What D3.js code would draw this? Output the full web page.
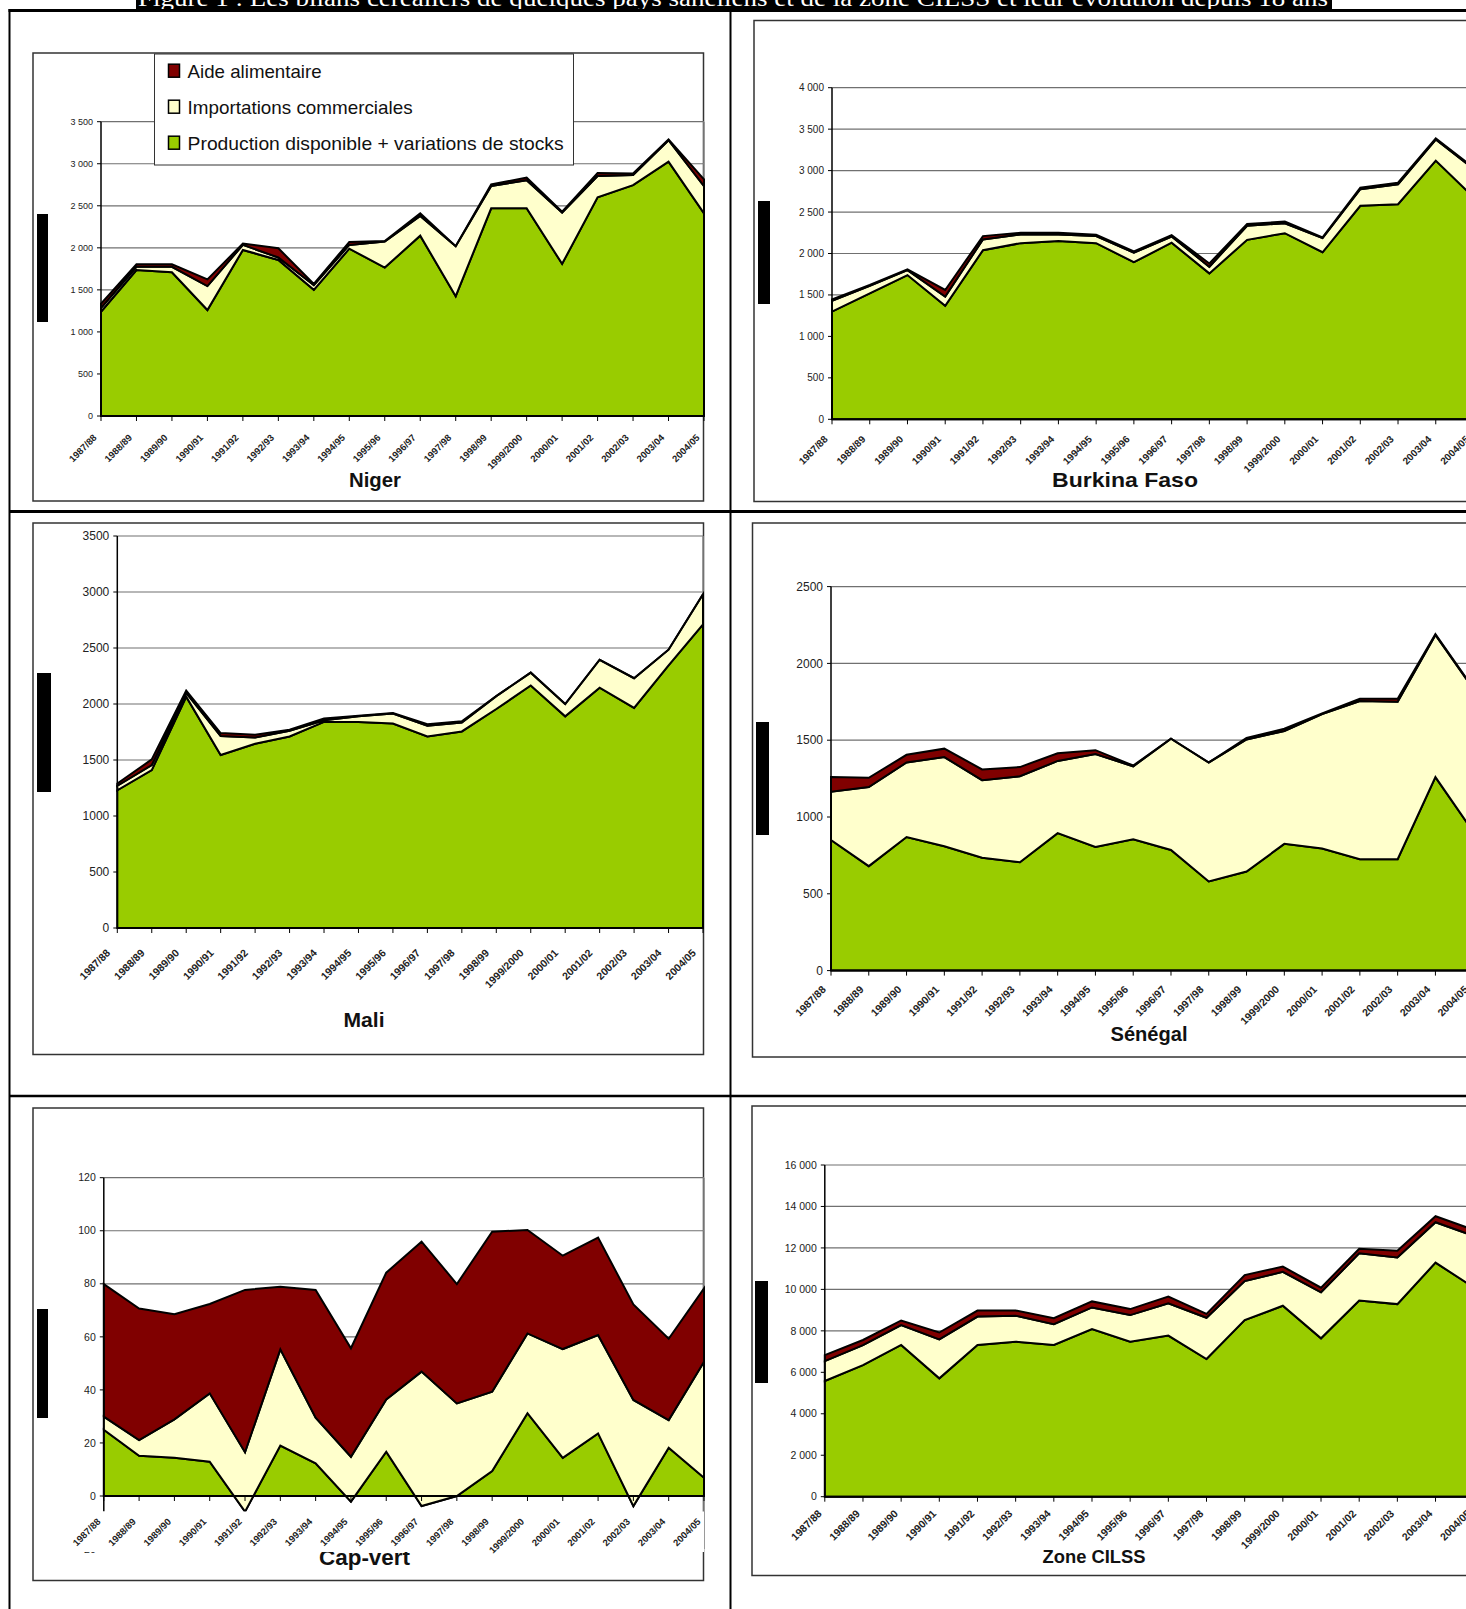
<!DOCTYPE html>
<html lang="fr">
<head>
<meta charset="UTF-8">
<title>Bilans céréaliers</title>
<script src="https://d3js.org/d3.v7.min.js"></script>
<style>
	body{margin:0;background:#fff;overflow:hidden}
	svg{display:block;font-family:"Liberation Sans",Arial,sans-serif}
</style>
</head>
<body>
<svg id="page" width="1466" height="1609"></svg>
<script>

var annees = ["1987/88","1988/89","1989/90","1990/91","1991/92","1992/93","1993/94","1994/95","1995/96",
	"1996/97","1997/98","1998/99","1999/2000","2000/01","2001/02","2002/03","2003/04","2004/05"];

// milliers de tonnes
var prodNiger = [1240,1735,1710,1260,1975,1855,1500,1990,1765,2145,1425,2470,2470,1810,2600,2745,3025,2410];
var impNiger  = [45,40,65,285,60,30,55,45,310,235,595,265,335,610,255,120,255,325];
var aideNiger = [50,30,30,80,15,110,15,35,5,30,0,20,30,10,35,20,10,80];

var prodBurkina = [1300,1520,1740,1370,2040,2125,2150,2125,1895,2130,1760,2165,2245,2015,2575,2595,3120,2680];
var impBurkina  = [130,90,60,110,130,105,80,85,115,75,80,170,120,170,200,240,255,340];
var aideBurkina = [15,10,10,80,40,20,20,15,15,15,40,20,20,10,20,20,15,15];

var prodMali = [1230,1410,2065,1545,1645,1710,1840,1840,1825,1710,1755,1955,2165,1890,2145,1965,2345,2710];
var impMali  = [40,45,35,170,55,50,15,50,90,95,80,115,115,110,250,265,140,270];
var aideMali = [20,50,20,25,25,10,15,5,5,15,10,0,0,0,0,0,0,0];

var prodSenegal = [850,680,870,810,735,705,895,805,855,785,580,645,825,795,725,725,1260,905];
var impSenegal  = [315,515,485,580,505,560,470,605,475,725,775,860,735,875,1030,1025,925,930];
var aideSenegal = [95,60,50,55,70,60,50,25,5,0,0,10,15,5,15,20,5,5];

var prodCapVert = [25,15.2,14.4,12.9,-5.9,19,12.3,-2.1,16.7,-3.8,0,9.4,31.2,14.4,23.6,-3.8,18.2,6.9];
var impCapVert  = [4.9,5.9,14.5,25.8,22.4,36.3,17.2,16.9,19.7,50.7,34.9,29.9,30.1,41,37.1,40,10.4,43.7];
var aideCapVert = [50,49.6,39.6,33.7,61.2,23.6,48.2,40.9,47.8,49,45,60.3,39,35.2,36.7,36,30.7,27.7];

var prodCilss = [5580,6350,7320,5710,7320,7480,7320,8090,7480,7770,6640,8520,9210,7640,9460,9290,11290,10100];
var impCilss  = [960,960,960,1880,1370,1250,1000,1040,1280,1560,1990,1880,1640,2220,2280,2250,1950,2480];
var aideCilss = [290,250,220,330,290,250,290,290,290,320,190,290,250,220,220,320,290,290];

var ticksNiger   = [0,500,1000,1500,2000,2500,3000,3500];
var ticksBurkina = [0,500,1000,1500,2000,2500,3000,3500,4000];
var ticksMali    = [0,500,1000,1500,2000,2500,3000,3500];
var ticksSenegal = [0,500,1000,1500,2000,2500];
var ticksCapVert = [-20,0,20,40,60,80,100,120];
var ticksCilss   = [0,2000,4000,6000,8000,10000,12000,14000,16000];

var legende = ["Aide alimentaire","Importations commerciales","Production disponible + variations de stocks"];
var couleurs = {prod:"#99CC00", imp:"#FFFFCC", aide:"#800000"};

var svg = d3.select("#page");

// bandeau du titre (coupé en haut de la page)
svg.append("rect").attr("x",136).attr("y",0).attr("width",1196).attr("height",9.5).attr("fill","#000");
svg.append("text").attr("x",138).attr("y",5.5)
	.attr("font-family","'Liberation Serif',serif").attr("font-size",24).attr("fill","#fff")
	.attr("textLength",1190).attr("lengthAdjust","spacingAndGlyphs")
	.text("Figure 1 : Les bilans céréaliers de quelques pays sahéliens et de la zone CILSS et leur évolution depuis 18 ans");

// cadre du tableau
var traits = [[8.5,10.5,1466,10.5,3],[9.5,9,9.5,1609,2],[730.5,9,730.5,1609,2],[9,511.5,1466,511.5,3],[9,1096,1466,1096,2.5]];
traits.forEach(function(t){
	svg.append("line").attr("x1",t[0]).attr("y1",t[1]).attr("x2",t[2]).attr("y2",t[3])
		.attr("stroke","#000").attr("stroke-width",t[4]);
});

var espace = function(v){ return d3.format(",")(v).replace(/,/g," "); };
var simple = function(v){ return String(v); };

function graphique(c) {
	var g = svg.append("g");
	var f = c.cadre;
	g.append("rect").attr("x",f[0]).attr("y",f[1]).attr("width",f[2]-f[0]).attr("height",f[3]-f[1])
		.attr("fill","#fff").attr("stroke","#333").attr("stroke-width",1.5);

	var vmax = d3.max(c.ticks), vmin = d3.min(c.ticks);
	var x = d3.scalePoint().domain(annees).range([c.x0, c.x1]);
	var y = d3.scaleLinear().domain([0, vmax]).range([c.y0, c.yTop]);

	// grille
	g.selectAll(".grille").data(c.ticks.filter(function(t){return t>0;})).enter().append("line")
		.attr("x1",c.x0).attr("x2",c.x1).attr("y1",function(d){return y(d);}).attr("y2",function(d){return y(d);})
		.attr("stroke","#707070").attr("stroke-width",1.2);
	g.append("line").attr("x1",c.x1).attr("x2",c.x1).attr("y1",y(vmax)).attr("y2",y(vmin))
		.attr("stroke","#8a8a8a").attr("stroke-width",1.5);

	var lignes = annees.map(function(a,i){ return {annee:a, prod:c.prod[i], imp:c.imp[i], aide:c.aide[i]}; });
	var series = d3.stack().keys(["prod","imp","aide"])(lignes);
	var aire = d3.area().x(function(d){return x(d.data.annee);})
		.y0(function(d){return y(d[0]);}).y1(function(d){return y(d[1]);});
	g.selectAll(".serie").data(series).enter().append("path")
		.attr("d",aire).attr("fill",function(d){return couleurs[d.key];})
		.attr("stroke","#000").attr("stroke-width",2);

	// axe des ordonnées
	g.append("line").attr("x1",c.x0).attr("x2",c.x0).attr("y1",y(vmax)).attr("y2",c.axeBas || y(vmin))
		.attr("stroke","#000").attr("stroke-width",1.5);
	g.selectAll(".tk").data(c.ticks).enter().append("line")
		.attr("x1",c.x0-4).attr("x2",c.x0).attr("y1",function(d){return y(d);}).attr("y2",function(d){return y(d);})
		.attr("stroke","#000").attr("stroke-width",1);
	g.selectAll(".tl").data(c.ticks).enter().append("text")
		.attr("x",c.x0-8).attr("y",function(d){return y(d);}).attr("dy","0.35em")
		.attr("text-anchor","end").attr("font-size",c.fsTick).attr("fill","#222")
		.text(function(d){return c.fmt(d);});

	// axe des abscisses
	g.append("line").attr("x1",c.x0).attr("x2",c.x1).attr("y1",y(0)).attr("y2",y(0))
		.attr("stroke","#000").attr("stroke-width",2);
	g.selectAll(".tx").data(annees).enter().append("line")
		.attr("x1",function(d){return x(d);}).attr("x2",function(d){return x(d);})
		.attr("y1",y(0)).attr("y2",y(0)+5).attr("stroke","#000").attr("stroke-width",1);

	// titre de l'axe (rendu en barre noire)
	g.append("rect").attr("x",c.barre[0]).attr("y",c.barre[1]).attr("width",c.barre[2]).attr("height",c.barre[3]).attr("fill","#000");

	g.append("text").attr("x",c.titre[1]).attr("y",c.titre[2]).attr("text-anchor","middle")
		.attr("font-weight","bold").attr("font-size",c.titre[3]).attr("fill","#111")
		.attr("textLength",c.titre[4]).attr("lengthAdjust","spacingAndGlyphs").text(c.titre[0]);

	if (c.bandeBlanche) {
		g.append("rect").attr("x",60).attr("y",c.bandeBlanche[0]).attr("width",c.x1-60)
			.attr("height",c.bandeBlanche[1]-c.bandeBlanche[0]).attr("fill","#fff");
	}

	g.selectAll(".xl").data(annees).enter().append("text")
		.attr("transform",function(d){return "translate("+(x(d)-c.lab[0])+","+(y(0)+c.lab[1])+") rotate(-45)";})
		.attr("text-anchor","end").attr("dy","0.35em").attr("font-size",c.lab[2]).attr("font-weight","bold")
		.attr("fill","#222").text(function(d){return d;});
	return g;
}

var niger = graphique({prod:prodNiger, imp:impNiger, aide:aideNiger, ticks:ticksNiger, fmt:espace, fsTick:9,
	cadre:[33,53,703.5,501], x0:101, x1:704, y0:416, yTop:121.7,
	barre:[37,214,11,108], titre:["Niger",375,486.5,21,52], lab:[6,20,9.5]});

graphique({prod:prodBurkina, imp:impBurkina, aide:aideBurkina, ticks:ticksBurkina, fmt:espace, fsTick:10,
	cadre:[754,20.5,1490,501.5], x0:832, x1:1473.5, y0:419.3, yTop:87.7,
	barre:[758,201,12,103], titre:["Burkina Faso",1125,486.5,21,146], lab:[6,18,10]});

graphique({prod:prodMali, imp:impMali, aide:aideMali, ticks:ticksMali, fmt:simple, fsTick:12,
	cadre:[33,523,703.5,1054.5], x0:117.3, x1:703, y0:928, yTop:536,
	barre:[37,673,14,119], titre:["Mali",364,1027,21,41], lab:[9,23,10.5]});

graphique({prod:prodSenegal, imp:impSenegal, aide:aideSenegal, ticks:ticksSenegal, fmt:simple, fsTick:12,
	cadre:[752.5,523,1490,1057], x0:831, x1:1473.2, y0:970.6, yTop:586.6,
	barre:[756,722,13,113], titre:["Sénégal",1149,1041,20,77], lab:[7,17,10.5]});

graphique({prod:prodCapVert, imp:impCapVert, aide:aideCapVert, ticks:ticksCapVert, fmt:simple, fsTick:10.5,
	cadre:[33,1108,703.5,1580.5], x0:103.8, x1:704, y0:1496, yTop:1177.7, axeBas:1511.5,
	bandeBlanche:[1511.5,1552], barre:[37,1309,11,109], titre:["Cap-vert",364.5,1565,22,91], lab:[5,24,9.5]});

graphique({prod:prodCilss, imp:impCilss, aide:aideCilss, ticks:ticksCilss, fmt:espace, fsTick:10.5,
	cadre:[752,1106,1490,1575.5], x0:824.8, x1:1473.7, y0:1496.7, yTop:1165,
	barre:[755,1281,13,102], titre:["Zone CILSS",1094,1563,19,103], lab:[5,15,10.5]});

// légende du graphique Niger
var leg = niger.append("g");
leg.append("rect").attr("x",154.5).attr("y",54).attr("width",419).attr("height",111)
	.attr("fill","#fff").attr("stroke","#333").attr("stroke-width",1);
var legCles = ["aide","imp","prod"];
var legLong = [134,225,376];
legende.forEach(function(nom,i){
	var cy = 70.7 + i*36;
	leg.append("rect").attr("x",168.5).attr("y",cy-6.5).attr("width",11).attr("height",13)
		.attr("fill",couleurs[legCles[i]]).attr("stroke","#000").attr("stroke-width",1.5);
	leg.append("text").attr("x",187.6).attr("y",cy+7).attr("font-size",19).attr("fill","#111")
		.attr("textLength",legLong[i]).attr("lengthAdjust","spacingAndGlyphs").text(nom);
});

</script>
</body>
</html>
